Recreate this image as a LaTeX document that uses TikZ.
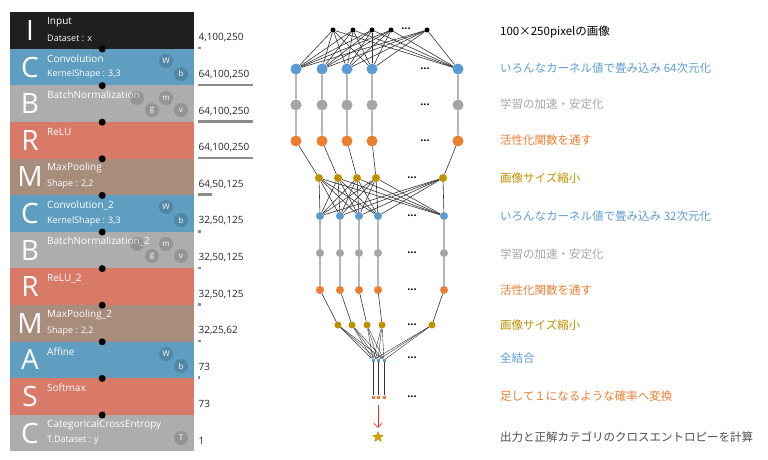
\documentclass[tikz,border=0pt]{standalone}
\usepackage{fontspec}
\setmainfont{Open Sans}
\newfontfamily\jp{Noto Sans CJK JP}
\usepackage{tikz}
\usetikzlibrary{positioning,calc,shapes.geometric,arrows.meta}
\definecolor{cblue}{HTML}{5F9EC0}
\definecolor{cgray}{HTML}{ADADAD}
\definecolor{cred}{HTML}{D97A68}
\definecolor{cbrown}{HTML}{A88C7C}
\definecolor{nblue}{HTML}{5B9BD5}
\definecolor{ngray}{HTML}{A5A5A5}
\definecolor{norange}{HTML}{ED7D31}
\definecolor{nmust}{HTML}{BF9000}
\tikzset{
  layer/.style={draw=none,minimum width=184pt,minimum height=36.6pt,inner sep=0pt,anchor=north west},
  big/.style={text=white,font=\fontsize{28}{28}\selectfont,anchor=center,inner sep=0pt},
  ttl/.style={text=white,font=\fontsize{10}{11}\selectfont,anchor=west,inner sep=0pt},
  sub/.style={text=white,font=\fontsize{9}{10}\selectfont,anchor=west,inner sep=0pt},
  par/.style={circle,fill=black,fill opacity=0.14,text opacity=1,text=white,minimum size=14pt,inner sep=0pt,font=\fontsize{8}{8}\selectfont},
  shp/.style={anchor=west,inner sep=0pt,font=\fontsize{10}{10}\selectfont,text=black!85},
  neu/.style={circle,inner sep=0pt,minimum size=#1},
  neu/.default=11pt,
  wire/.style={black!80,line width=0.6pt},
  desc/.style={anchor=west,inner sep=0pt,font=\jp\fontsize{11.5}{12}\selectfont},
  dots/.style={font=\bfseries\fontsize{11}{11}\selectfont,inner sep=0pt}
}
\begin{document}
\begin{tikzpicture}[x=1pt,y=-1pt]
\useasboundingbox (0,0) rectangle (768,460);
% left panel: the layers
\foreach \i/\L/\c/\t/\s/\lab/\bw in {
  0/I/black!88/Input/{Dataset : x}/{4,100,250}/3,
  1/C/cblue/Convolution/{KernelShape : 3,3}/{64,100,250}/55,
  2/B/cgray/BatchNormalization/{}/{64,100,250}/55,
  3/R/cred/ReLU/{}/{64,100,250}/55,
  4/M/cbrown/MaxPooling/{Shape : 2,2}/{64,50,125}/14,
  5/C/cblue/Convolution\_2/{KernelShape : 3,3}/{32,50,125}/3,
  6/B/cgray/BatchNormalization\_2/{}/{32,50,125}/3,
  7/R/cred/ReLU\_2/{}/{32,50,125}/3,
  8/M/cbrown/MaxPooling\_2/{Shape : 2,2}/{32,25,62}/3,
  9/A/cblue/Affine/{}/73/2,
  10/S/cred/Softmax/{}/73/0,
  11/C/cgray/CategoricalCrossEntropy/{T.Dataset : y}/1/0}{
  \node[layer,fill=\c] (lay\i) at (10,{12+36.6*\i}) {};
  \node[big] at ($(lay\i.west)+(20,0)$) {\L};
  \node[ttl] at ($(lay\i.north west)+(37,10)$) {\t};
  \node[sub] at ($(lay\i.north west)+(37,26)$) {\s};
  \node[shp] (shp\i) at ($(lay\i.north east)+(4,26)$) {\lab};
  \fill[black!45] ($(lay\i.north east)+(4,35)$) rectangle ++(\bw,2.5);
}
\foreach \i in {0,...,10}{
  \fill[black] (lay\i.south) circle (3.5pt);
}
% parameters
\node[par] at (166,61) {W};
\node[par] at (181,74) {b};
\node[par] at (137,98) {};
\node[par] at (166,98) {m};
\node[par] at (152,110) {g};
\node[par] at (181,110) {v};
\node[par] at (166,207) {W};
\node[par] at (181,220) {b};
\node[par] at (137,244) {};
\node[par] at (166,244) {m};
\node[par] at (152,256) {g};
\node[par] at (181,256) {v};
\node[par] at (166,354) {W};
\node[par] at (181,366) {b};
\node[par] at (181,438) {T};

% network
\foreach \x [count=\k] in {333,353,372,391,427}
  \node[neu=5pt,fill=black] (in\k) at (\x,30) {};
\foreach \x [count=\k] in {296,322,347,372,458}{
  \node[neu,fill=nblue] (a\k) at (\x,69) {};
  \node[neu,fill=ngray] (b\k) at (\x,105) {};
  \node[neu,fill=norange] (c\k) at (\x,141) {};
}
\foreach \x [count=\k] in {319,338,357,376,443}
  \node[neu=8pt,fill=nmust] (d\k) at (\x,178) {};
\foreach \x [count=\k] in {320,340,359,378,444}{
  \node[neu=8pt,fill=nblue] (e\k) at (\x,216) {};
  \node[neu=8pt,fill=ngray] (f\k) at (\x,253) {};
  \node[neu=8pt,fill=norange] (g\k) at (\x,290) {};
}
\foreach \x [count=\k] in {338,352,367,382,432}
  \node[neu=7pt,fill=nmust] (h\k) at (\x,325) {};
\foreach \x [count=\k] in {373,378,384}{
  \node[neu=3pt,rectangle,fill=nblue] (p\k) at (\x,360) {};
  \node[neu=3pt,rectangle,fill=norange] (q\k) at (\x,397) {};
}
\node[star,star points=5,star point ratio=2.3,fill=nmust!80!yellow,draw=nmust,inner sep=0pt,minimum size=11pt] (out) at (378,437) {};
\foreach \i in {1,...,5}{
  \foreach \j in {1,...,5}{
    \draw[wire] (in\i) -- (a\j);
    \draw[wire] (d\i) -- (e\j);
  }
  \draw[wire] (a\i) -- (b\i) -- (c\i) -- (d\i);
  \draw[wire] (e\i) -- (f\i) -- (g\i) -- (h\i);
  \foreach \j in {1,2,3}
    \draw[wire,line width=0.4pt] (h\i) -- (p\j);
}
\foreach \j in {1,2,3}
  \draw[wire] (p\j) -- (q\j);
\coordinate (arrtop) at (378,405);
\draw[-{Straight Barb[length=4pt]},red!85,line width=0.8pt] (arrtop) -- ($(out.north)+(0,-3)$);
% ellipses
\node[dots] at (406,29) {...};
\foreach \y in {69,105,141} \node[dots] at (425,\y) {...};
\foreach \y in {178,216,253,290,325,358,397} \node[dots] at (412,\y) {...};

% descriptions
\node[desc,text=black] at (500,32) {100×250pixelの画像};
\node[desc,text=nblue] at (500,68) {いろんなカーネル値で畳み込み 64次元化};
\node[desc,text=ngray] at (500,104) {学習の加速・安定化};
\node[desc,text=norange] at (500,140) {活性化関数を通す};
\node[desc,text=nmust] at (500,178) {画像サイズ縮小};
\node[desc,text=nblue] at (500,216) {いろんなカーネル値で畳み込み 32次元化};
\node[desc,text=ngray] at (500,254) {学習の加速・安定化};
\node[desc,text=norange] at (500,290) {活性化関数を通す};
\node[desc,text=nmust] at (500,325) {画像サイズ縮小};
\node[desc,text=nblue] at (500,358) {全結合};
\node[desc,text=norange] at (500,396) {足して１になるような確率へ変換};
\node[desc,text=black!70] at (500,437) {出力と正解カテゴリのクロスエントロピーを計算};
\end{tikzpicture}
\end{document}
